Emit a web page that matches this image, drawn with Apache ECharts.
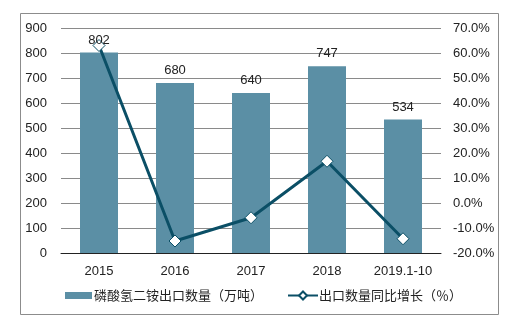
<!DOCTYPE html>
<html>
<head>
<meta charset="utf-8">
<script src="https://cdn.jsdelivr.net/npm/echarts@6/dist/echarts.min.js"></script>
<style>
  html, body { margin: 0; padding: 0; background: #fff; }
  #chart { width: 513px; height: 322px; }
</style>
</head>
<body>
<div id="chart"></div>
<script>
// 磷酸氢二铵出口数量及同比增长
const categories = ['2015', '2016', '2017', '2018', '2019.1-10'];
const exportVolume = [802, 680, 640, 747, 534];          // 万吨
const yoyGrowth = [63.0, -15.2, -5.9, 16.7, -14.3];      // %
const leftTicks = { min: 0, max: 900, interval: 100 };
const rightTicks = { min: -20, max: 70, interval: 10 };

const latin = '"Liberation Sans", Arial, sans-serif';
const cjk = '"Noto Sans CJK SC", "Liberation Sans", sans-serif';
const barColor = '#5b8fa5';
const lineColor = '#0b4f66';

const chart = echarts.init(document.getElementById('chart'), null, { renderer: 'canvas' });

chart.setOption({
  animation: false,
  backgroundColor: '#fff',
  graphic: [{
    type: 'rect',
    shape: { x: 20.5, y: 13.5, width: 478, height: 301 },
    style: { fill: 'none', stroke: '#8c8c8c', lineWidth: 1 },
    silent: true
  }],
  grid: { left: 61, right: 72, top: 28, bottom: 69, containLabel: false },
  legend: [{
    left: 65, top: 289, padding: 0,
    itemWidth: 27, itemHeight: 7,
    textStyle: { fontFamily: cjk, fontSize: 13, color: '#222', padding: [0, 0, 0, -3] },
    data: [{ name: '磷酸氢二铵出口数量（万吨）', icon: 'rect' }]
  }, {
    left: 287, top: 289, padding: 0,
    itemWidth: 30, itemHeight: 10,
    textStyle: { fontFamily: cjk, fontSize: 13, color: '#222', padding: [0, 0, 0, -4] },
    data: [{ name: '出口数量同比增长（％）' }]
  }],
  xAxis: {
    type: 'category',
    data: categories,
    axisLine: { lineStyle: { color: '#222', width: 1 } },
    axisTick: { show: false },
    axisLabel: { interval: 0, fontFamily: latin, fontSize: 13, color: '#222', margin: 12 }
  },
  yAxis: [{
    type: 'value',
    min: leftTicks.min, max: leftTicks.max, interval: leftTicks.interval,
    axisLine: { show: false },
    axisTick: { show: false },
    splitLine: { lineStyle: { color: '#8a8a8a', width: 1 } },
    axisLabel: { fontFamily: latin, fontSize: 13, color: '#222', margin: 14 }
  }, {
    type: 'value',
    min: rightTicks.min, max: rightTicks.max, interval: rightTicks.interval,
    axisLine: { show: false },
    axisTick: { show: false },
    splitLine: { show: false },
    axisLabel: {
      fontFamily: latin, fontSize: 13, color: '#222', margin: 12,
      formatter: v => v.toFixed(1) + '%'
    }
  }],
  series: [{
    name: '磷酸氢二铵出口数量（万吨）',
    type: 'bar',
    data: exportVolume,
    barWidth: '50%',
    itemStyle: { color: barColor },
    z: 2
  }, {
    name: '出口数量同比增长（％）',
    type: 'line',
    yAxisIndex: 1,
    data: yoyGrowth,
    lineStyle: { color: lineColor, width: 3 },
    itemStyle: { color: '#fff', borderColor: lineColor, borderWidth: 1 },
    symbol: 'diamond',
    symbolSize: 12,
    showAllSymbol: true,
    z: 3
  }, {
    // value labels drawn above the line
    name: 'labels',
    type: 'bar',
    data: exportVolume,
    barWidth: '50%',
    barGap: '-100%',
    itemStyle: { color: 'rgba(0,0,0,0)' },
    label: {
      show: true, position: 'top', distance: 6,
      fontFamily: latin, fontSize: 13, color: '#222'
    },
    silent: true,
    z: 4
  }]
});
</script>
</body>
</html>
